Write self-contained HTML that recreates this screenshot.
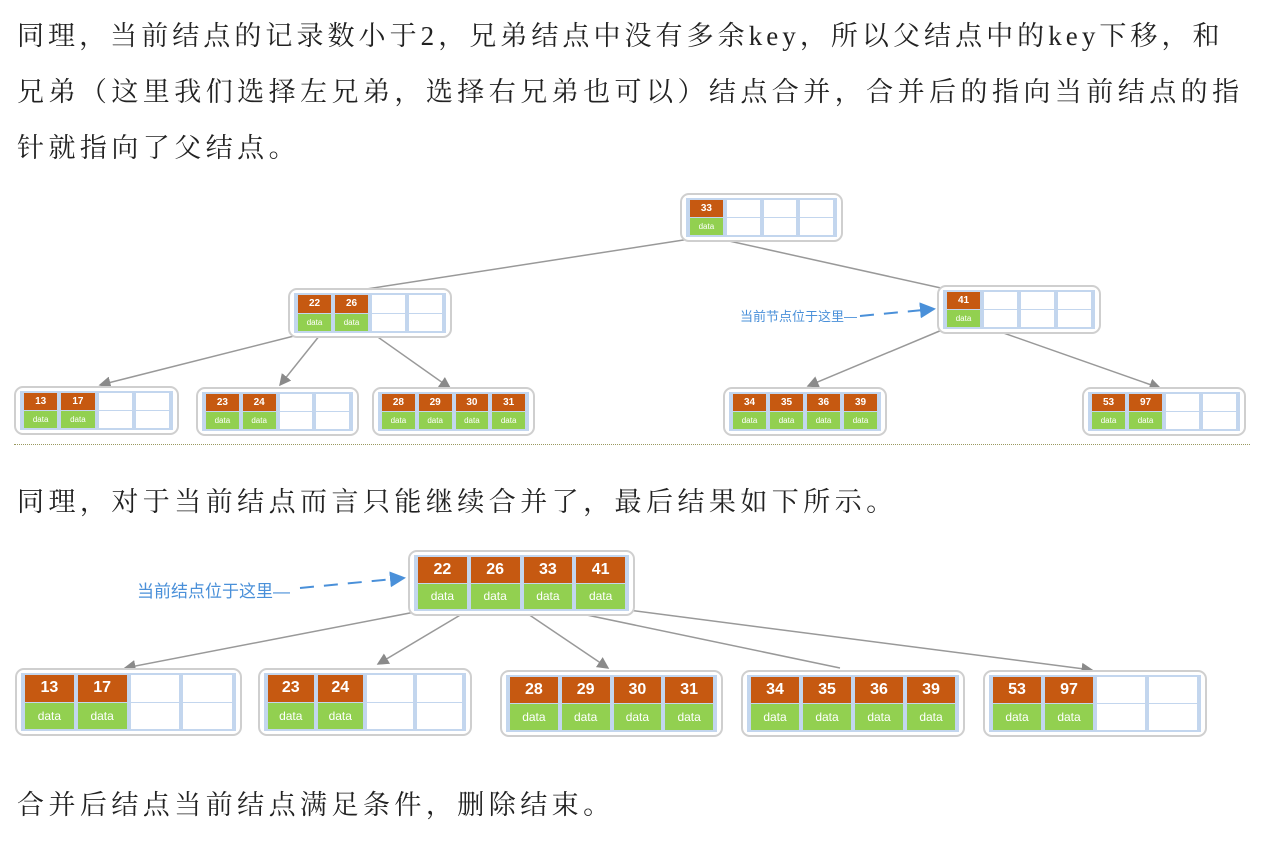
<!DOCTYPE html>
<html><head><meta charset="utf-8">
<style>
body{margin:0;width:1287px;height:849px;background:#fff;position:relative;overflow:hidden;font-family:"Liberation Serif","Noto Serif CJK SC",serif;}
.t{position:absolute;left:17px;font-size:27px;letter-spacing:4.45px;color:#222;white-space:nowrap;line-height:40px;}
.n{position:absolute;box-sizing:border-box;border:2px solid #cfcfcf;border-radius:9px;background:#fff;padding:3px 4px;}
.in{width:100%;height:100%;box-sizing:border-box;background:#c3d6ee;display:flex;padding:2px 4px;gap:4px;}
.c{flex:1;display:flex;flex-direction:column;gap:1px;}
.c b,.c i{flex:1;display:flex;align-items:center;justify-content:center;font-style:normal;color:#fff;font-family:"Liberation Sans",sans-serif;}
.c b{background:#c65911;font-weight:bold;}
.c i{background:#92d050;}
.e b,.e i{background:#fff;}
.s b{font-size:10px}.s i{font-size:8px}
.L b{font-size:16px}.L i{font-size:12px}
.lab{position:absolute;color:#4a90d9;font-family:"Liberation Sans","Noto Sans CJK SC",sans-serif;white-space:nowrap;}
</style></head><body>
<div class="t" style="top:16px;letter-spacing:4.05px">同理，当前结点的记录数小于2，兄弟结点中没有多余key，所以父结点中的key下移，和</div>
<div class="t" style="top:72px">兄弟（这里我们选择左兄弟，选择右兄弟也可以）结点合并，合并后的指向当前结点的指</div>
<div class="t" style="top:128px">针就指向了父结点。</div>
<div class="t" style="top:482px">同理，对于当前结点而言只能继续合并了，最后结果如下所示。</div>
<div class="t" style="top:785px">合并后结点当前结点满足条件，删除结束。</div>
<div style="position:absolute;left:14px;top:444px;width:1236px;border-top:1px dotted #9a9a60"></div>

<svg style="position:absolute;left:0;top:0" width="1287" height="849">
<defs><marker id="a" markerWidth="8" markerHeight="8" refX="7" refY="4" orient="auto"><path d="M0,0 L8,4 L0,8z" fill="#8a8a8a"/></marker>
<marker id="b" markerWidth="8" markerHeight="8" refX="7" refY="4" orient="auto"><path d="M0,0 L8,4 L0,8z" fill="#4a90d9"/></marker></defs>
<g stroke="#999" stroke-width="1.5" fill="none">
<line x1="690" y1="239" x2="360" y2="290"/>
<line x1="720" y1="239" x2="950" y2="290"/>
<line x1="298" y1="335" x2="100" y2="385" marker-end="url(#a)"/>
<line x1="320" y1="335" x2="280" y2="385" marker-end="url(#a)"/>
<line x1="375" y1="335" x2="450" y2="388" marker-end="url(#a)"/>
<line x1="942" y1="330" x2="808" y2="386" marker-end="url(#a)"/>
<line x1="995" y1="330" x2="1160" y2="388" marker-end="url(#a)"/>
<line x1="415" y1="612" x2="125" y2="668" marker-end="url(#a)"/>
<line x1="462" y1="614" x2="378" y2="664" marker-end="url(#a)"/>
<line x1="528" y1="614" x2="608" y2="668" marker-end="url(#a)"/>
<line x1="582" y1="614" x2="840" y2="668"/>
<line x1="628" y1="610" x2="1092" y2="670" marker-end="url(#a)"/>
</g>
<g stroke="#4a90d9" stroke-width="2" fill="none" stroke-dasharray="14,10">
<line x1="860" y1="316" x2="934" y2="309" marker-end="url(#b)"/>
<line x1="300" y1="588" x2="404" y2="578" marker-end="url(#b)"/>
</g>
</svg>
<div class="lab" style="left:740px;top:306px;font-size:13px">当前节点位于这里—</div>
<div class="lab" style="left:137px;top:577px;font-size:17px">当前结点位于这里—</div>

<div class="n s" style="left:680px;top:193px;width:163px;height:49px"><div class="in"><div class="c"><b>33</b><i>data</i></div><div class="c e"><b></b><i></i></div><div class="c e"><b></b><i></i></div><div class="c e"><b></b><i></i></div></div></div>
<div class="n s" style="left:288px;top:288px;width:164px;height:50px"><div class="in"><div class="c"><b>22</b><i>data</i></div><div class="c"><b>26</b><i>data</i></div><div class="c e"><b></b><i></i></div><div class="c e"><b></b><i></i></div></div></div>
<div class="n s" style="left:937px;top:285px;width:164px;height:49px"><div class="in"><div class="c"><b>41</b><i>data</i></div><div class="c e"><b></b><i></i></div><div class="c e"><b></b><i></i></div><div class="c e"><b></b><i></i></div></div></div>
<div class="n s" style="left:14px;top:386px;width:165px;height:49px"><div class="in"><div class="c"><b>13</b><i>data</i></div><div class="c"><b>17</b><i>data</i></div><div class="c e"><b></b><i></i></div><div class="c e"><b></b><i></i></div></div></div>
<div class="n s" style="left:196px;top:387px;width:163px;height:49px"><div class="in"><div class="c"><b>23</b><i>data</i></div><div class="c"><b>24</b><i>data</i></div><div class="c e"><b></b><i></i></div><div class="c e"><b></b><i></i></div></div></div>
<div class="n s" style="left:372px;top:387px;width:163px;height:49px"><div class="in"><div class="c"><b>28</b><i>data</i></div><div class="c"><b>29</b><i>data</i></div><div class="c"><b>30</b><i>data</i></div><div class="c"><b>31</b><i>data</i></div></div></div>
<div class="n s" style="left:723px;top:387px;width:164px;height:49px"><div class="in"><div class="c"><b>34</b><i>data</i></div><div class="c"><b>35</b><i>data</i></div><div class="c"><b>36</b><i>data</i></div><div class="c"><b>39</b><i>data</i></div></div></div>
<div class="n s" style="left:1082px;top:387px;width:164px;height:49px"><div class="in"><div class="c"><b>53</b><i>data</i></div><div class="c"><b>97</b><i>data</i></div><div class="c e"><b></b><i></i></div><div class="c e"><b></b><i></i></div></div></div>

<div class="n L" style="left:408px;top:550px;width:227px;height:66px"><div class="in"><div class="c"><b>22</b><i>data</i></div><div class="c"><b>26</b><i>data</i></div><div class="c"><b>33</b><i>data</i></div><div class="c"><b>41</b><i>data</i></div></div></div>
<div class="n L" style="left:15px;top:668px;width:227px;height:68px"><div class="in"><div class="c"><b>13</b><i>data</i></div><div class="c"><b>17</b><i>data</i></div><div class="c e"><b></b><i></i></div><div class="c e"><b></b><i></i></div></div></div>
<div class="n L" style="left:258px;top:668px;width:214px;height:68px"><div class="in"><div class="c"><b>23</b><i>data</i></div><div class="c"><b>24</b><i>data</i></div><div class="c e"><b></b><i></i></div><div class="c e"><b></b><i></i></div></div></div>
<div class="n L" style="left:500px;top:670px;width:223px;height:67px"><div class="in"><div class="c"><b>28</b><i>data</i></div><div class="c"><b>29</b><i>data</i></div><div class="c"><b>30</b><i>data</i></div><div class="c"><b>31</b><i>data</i></div></div></div>
<div class="n L" style="left:741px;top:670px;width:224px;height:67px"><div class="in"><div class="c"><b>34</b><i>data</i></div><div class="c"><b>35</b><i>data</i></div><div class="c"><b>36</b><i>data</i></div><div class="c"><b>39</b><i>data</i></div></div></div>
<div class="n L" style="left:983px;top:670px;width:224px;height:67px"><div class="in"><div class="c"><b>53</b><i>data</i></div><div class="c"><b>97</b><i>data</i></div><div class="c e"><b></b><i></i></div><div class="c e"><b></b><i></i></div></div></div>
</body></html>
